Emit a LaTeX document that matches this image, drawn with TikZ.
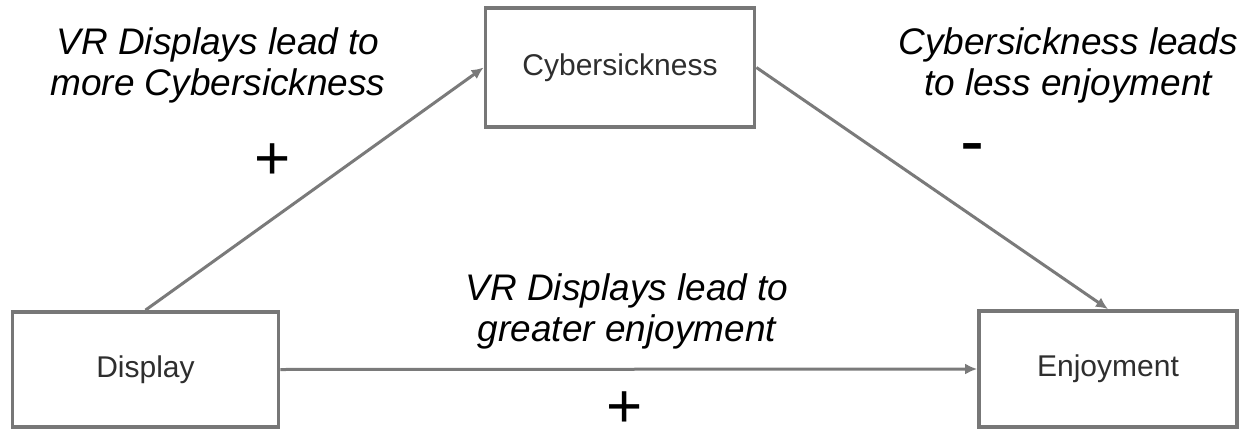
\documentclass[tikz,border=0pt]{standalone}
\usepackage{fontspec}
\setmainfont{Liberation Sans}
\usetikzlibrary{arrows.meta}
\definecolor{boxgray}{HTML}{777777}
\definecolor{linegray}{HTML}{7A7A7A}
\definecolor{boxtext}{HTML}{2E2E2E}
\begin{document}
\begin{tikzpicture}[x=1pt,y=-1pt,
  box/.style={draw=boxgray, line width=3.8pt, fill=white, inner sep=0pt,
    text=boxtext, font=\fontsize{30}{34}\selectfont},
  link/.style={draw=linegray, line width=3pt, -{Latex[length=12pt,width=11pt]}},
  lbl/.style={align=center, font=\fontsize{37}{41}\selectfont\itshape, text=black},
  sign/.style={font=\fontsize{62}{62}\selectfont, text=black, inner sep=0pt,
    text height=37pt, text depth=0pt, anchor=base},
  dashsign/.style={font=\fontsize{72}{72}\selectfont, text=black, inner sep=0pt}]
\useasboundingbox (0,0) rectangle (1240,431);
\fill[white] (0,0) rectangle (1240,431);
\node[box, minimum width=266pt, minimum height=115pt] (disp) at (145.5,369.5) {Display};
\node[box, minimum width=269pt, minimum height=119pt] (cyber) at (620,67.5) {Cybersickness};
\node[box, minimum width=258pt, minimum height=116pt] (enj) at (1108,369) {Enjoyment};
\draw[link] (disp.north) -- (cyber.west);
\draw[link] (cyber.east) -- (enj.north);
\draw[link] (disp.east) -- (enj.west);
\node[lbl] (l1) at (218,65) {VR Displays lead to\\more Cybersickness};
\node[lbl] (l2) at (1068,65) {Cybersickness leads\\to less enjoyment};
\node[lbl] (l3) at (627,311) {VR Displays lead to\\greater enjoyment};
\node[sign] (p1) at (273,179) {+};
\node[dashsign] (m1) at (972,155) {-};
\node[sign] (p2) at (625,427) {+};
\end{tikzpicture}
\end{document}
